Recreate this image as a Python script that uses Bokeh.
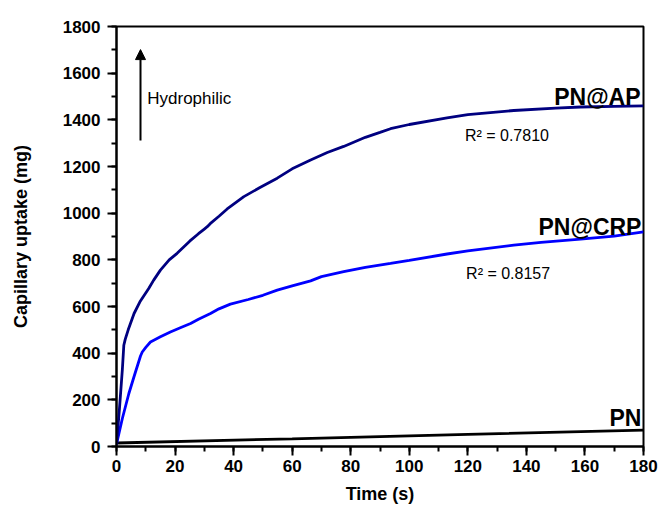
from bokeh.plotting import figure
from bokeh.models import SingleIntervalTicker, Arrow, NormalHead
from bokeh.core.properties import value
from bokeh.embed import file_html
from bokeh.resources import INLINE

# ---- data ----
t_ap = [0, 1, 2, 2.5, 3, 4, 6, 8, 11, 12.7, 15, 18, 20.7, 25, 28, 30, 31, 32, 35,
        37.8, 43.5, 49, 54.9, 60, 66.3, 72, 77.6, 85, 90, 93.6, 100, 112.9, 120,
        135.7, 150, 158.5, 170, 180]
y_ap = [10, 160, 330, 434, 460, 500, 570, 620, 677, 713, 756, 800, 828, 880, 912,
        932, 942, 955, 987, 1018, 1071, 1110, 1150, 1190, 1228, 1260, 1286, 1325,
        1346, 1362, 1380, 1408, 1422, 1440, 1450, 1455, 1458, 1460]

t_crp = [0, 2, 4.2, 6, 8.2, 8.8, 10, 11.6, 15, 18.4, 22, 25.3, 28, 32.1, 35, 38.9,
         45, 50, 54.9, 60, 66.3, 70, 77.6, 85, 93.6, 100, 112.9, 120, 135.7, 145,
         158.5, 170, 180]
y_crp = [10, 120, 226, 300, 388, 405, 425, 448, 470, 491, 510, 527, 545, 570, 590,
         610, 630, 648, 670, 688, 710, 728, 749, 768, 785, 798, 825, 838, 863, 875,
         889, 902, 920]

t_pn = [0, 60, 120, 180]
y_pn = [15, 33, 52, 70]

series_names = ["PN@AP", "PN@CRP", "PN"]
series_colors = ["#000080", "#0000FF", "#000000"]

label_text = ["PN@AP", "PN@CRP", "PN"]
label_x = [179, 179.3, 179.3]
label_y = [1497, 940, 122]

r2_text = ["R\u00b2 = 0.7810", "R\u00b2 = 0.8157"]
r2_x = [119, 119.4]
r2_y = [1331, 742]

hydro_text = ["Hydrophilic"]
hydro_x = [10.5]
hydro_y = [1490]

arrow_x = 8.2
arrow_y0 = 1311
arrow_y1 = 1701

# ---- figure ----
p = figure(width=665, height=511, x_range=(0, 180), y_range=(0, 1800),
           output_backend="svg", toolbar_location=None,
           min_border_left=116, min_border_right=22, min_border_top=26,
           min_border_bottom=65)
p.grid.visible = False
p.outline_line_color = "black"
p.outline_line_width = 2
p.background_fill_color = "white"
p.border_fill_color = "white"

for ax in (p.xaxis[0], p.yaxis[0]):
    ax.axis_line_width = 2
    ax.axis_line_color = "black"
    ax.major_tick_line_width = 2
    ax.minor_tick_line_width = 2
    ax.major_tick_out = 9
    ax.major_tick_in = 0
    ax.minor_tick_out = 5
    ax.minor_tick_in = 0
    ax.major_label_text_font = "Liberation Sans"
    ax.major_label_text_font_style = "bold"
    ax.major_label_text_font_size = "17px"
    ax.major_label_text_color = "black"
    ax.axis_label_text_font = "Liberation Sans"
    ax.axis_label_text_font_style = "bold"
    ax.axis_label_text_font_size = "18px"
    ax.axis_label_text_color = "black"

p.xaxis.ticker = SingleIntervalTicker(interval=20, num_minor_ticks=2)
p.yaxis.ticker = SingleIntervalTicker(interval=200, num_minor_ticks=2)
p.xaxis.axis_label = "Time (s)"
p.yaxis.axis_label = "Capillary uptake (mg)"
p.xaxis.major_label_standoff = 4
p.yaxis.major_label_standoff = 7
p.xaxis.axis_label_standoff = 9
p.yaxis.axis_label_standoff = 29

p.line(t_pn, y_pn, color=series_colors[2], line_width=2.8)
p.line(t_crp, y_crp, color=series_colors[1], line_width=2.8)
p.line(t_ap, y_ap, color=series_colors[0], line_width=2.8)

p.text(x=label_x, y=label_y, text=label_text, text_font=value("Liberation Sans"),
       text_font_style="bold", text_font_size="23px", text_align="right",
       text_baseline="alphabetic", text_color="black")
p.text(x=r2_x, y=r2_y, text=r2_text, text_font=value("Liberation Sans"),
       text_font_size="16px", text_align="left", text_baseline="alphabetic",
       text_color="black")
p.text(x=hydro_x, y=hydro_y, text=hydro_text, text_font=value("Liberation Sans"),
       text_font_size="17px", text_align="left", text_baseline="alphabetic",
       text_color="black")

p.add_layout(Arrow(end=NormalHead(size=10, fill_color="black", line_color="black"),
                   x_start=arrow_x, y_start=arrow_y0, x_end=arrow_x, y_end=arrow_y1,
                   line_width=2, line_color="black"))

open("out.html", "w").write(file_html(p, INLINE))
